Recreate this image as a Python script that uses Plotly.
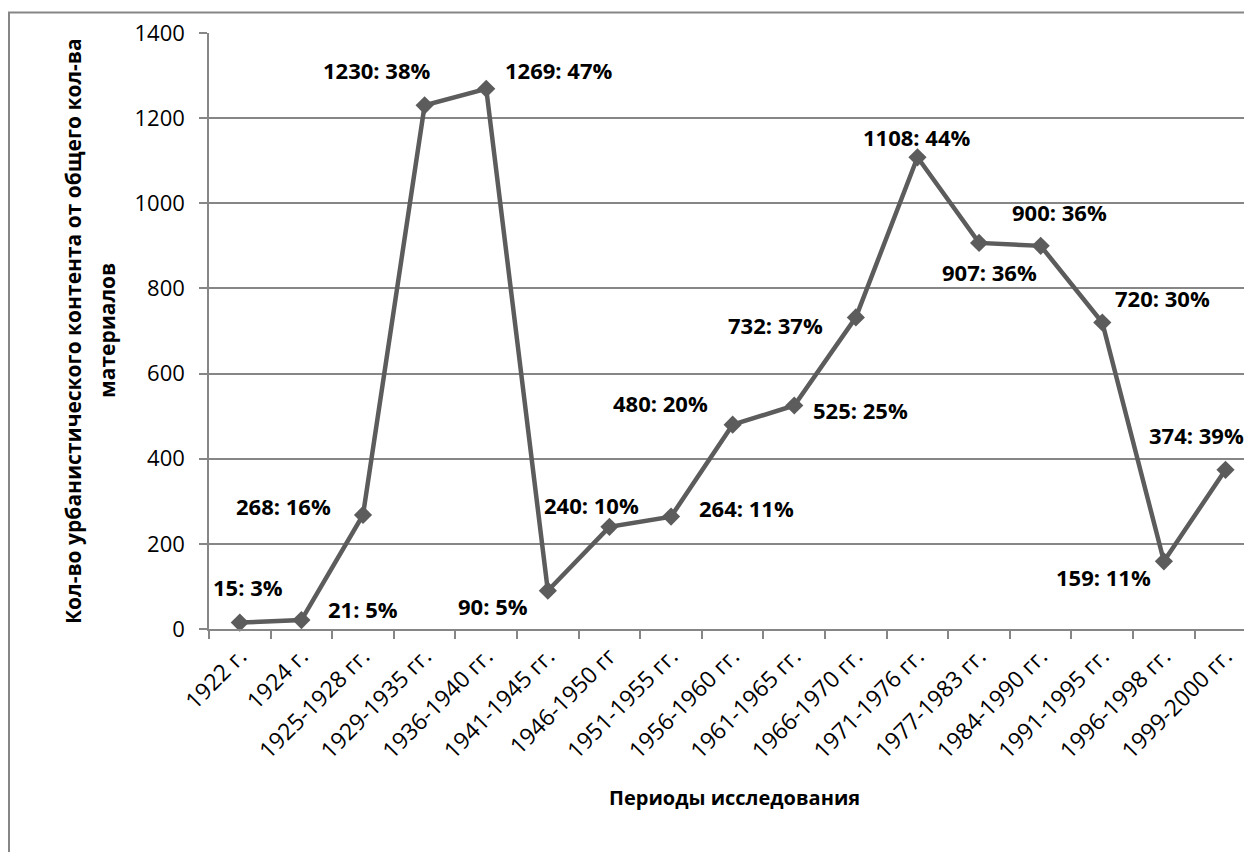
import plotly.graph_objects as go

# ---- data ----
periods = ["1922 г.", "1924 г.", "1925-1928 гг.", "1929-1935 гг.", "1936-1940 гг.",
           "1941-1945 гг.", "1946-1950 гг", "1951-1955 гг.", "1956-1960 гг.",
           "1961-1965 гг.", "1966-1970 гг.", "1971-1976 гг.", "1977-1983 гг.",
           "1984-1990 гг.", "1991-1995 гг.", "1996-1998 гг.", "1999-2000 гг."]
counts = [15, 21, 268, 1230, 1269, 90, 240, 264, 480, 525, 732, 1108, 907, 900, 720, 159, 374]
shares = [3, 5, 16, 38, 47, 5, 10, 11, 20, 25, 37, 44, 36, 36, 30, 11, 39]
y_ticks = [0, 200, 400, 600, 800, 1000, 1200, 1400]

x_title = "Периоды исследования"
y_title_lines = ["Кол-во урбанистического контента от общего кол-ва", "материалов"]

# ---- styling (label offsets in pixels: dx right, dy up) ----
label_offsets = [(8, 36), (62, 11), (-80, 9), (-48, 35), (72, 19), (-55, -15),
                 (-18, 22), (75, 9), (-72, 22), (66, -4), (-80, -8), (-1, 20),
                 (10, -29), (19, 34), (60, 24), (-60, -16), (-29, 35)]

LINE = "#5c5c5c"
GRID = "#868686"
FONT = "Open Sans"

# page body has an 8px margin; plot area should sit at x 209..1252, y 33..629 on screen
PAD = 8
L, T, PW, PH = 209 - PAD, 33 - PAD, 1043, 596
W, H = 1252 - PAD, 852 - PAD

fig = go.Figure()
fig.add_trace(go.Scatter(
    x=periods, y=counts, mode="lines+markers",
    line=dict(color=LINE, width=4.5),
    marker=dict(symbol="diamond", size=14, color=LINE),
    cliponaxis=False, showlegend=False,
))

for cat, v, p, (dx, dy) in zip(periods, counts, shares, label_offsets):
    fig.add_annotation(x=cat, y=v, text=f"{v}: {p}%", showarrow=False,
                       xshift=dx, yshift=dy, xanchor="center", yanchor="middle",
                       font=dict(family=FONT, size=22, color="black", weight="bold"))

# axis titles
fig.add_annotation(xref="paper", yref="paper", x=(734 - 209) / PW, y=(629 - 797) / PH,
                   text=x_title, showarrow=False, xanchor="center", yanchor="middle",
                   font=dict(family=FONT, size=20, color="black", weight="bold"))
for line_txt, xpx in zip(y_title_lines, [73, 107]):
    fig.add_annotation(xref="paper", yref="paper", x=(xpx - 209) / PW, y=0.5,
                       text=line_txt, showarrow=False, textangle=-90,
                       xanchor="center", yanchor="middle",
                       font=dict(family=FONT, size=21, color="black", weight="bold"))

# outer chart border
fig.add_shape(type="rect", xref="paper", yref="paper",
              x0=(9 - 209) / PW, x1=1.02, y0=-0.4, y1=1 + (33 - 12.5) / PH,
              line=dict(color=GRID, width=2), fillcolor="rgba(0,0,0,0)", layer="below")

fig.update_layout(
    width=W, height=H,
    margin=dict(l=L, r=W - L - PW, t=T, b=H - T - PH),
    paper_bgcolor="white", plot_bgcolor="white",
    font=dict(family=FONT, color="black"),
    xaxis=dict(type="category", range=[-0.5, 16.43],
               showline=True, linecolor=GRID, linewidth=1.5,
               ticks="outside", tickson="boundaries", ticklen=8, tickcolor=GRID, tickwidth=1.5,
               ticklabelstandoff=3,
               tickangle=-45, tickfont=dict(family=FONT, size=23, color="black"),
               showgrid=False, zeroline=False),
    yaxis=dict(range=[0, 1400], tickvals=y_ticks,
               showline=True, linecolor=GRID, linewidth=1.5,
               ticks="outside", ticklen=8, tickcolor=GRID, tickwidth=1.5,
               ticklabelstandoff=10,
               tickfont=dict(family=FONT, size=22, color="black"),
               showgrid=True, gridcolor=GRID, gridwidth=1.5, zeroline=False),
)

fig.write_html("out.html")
